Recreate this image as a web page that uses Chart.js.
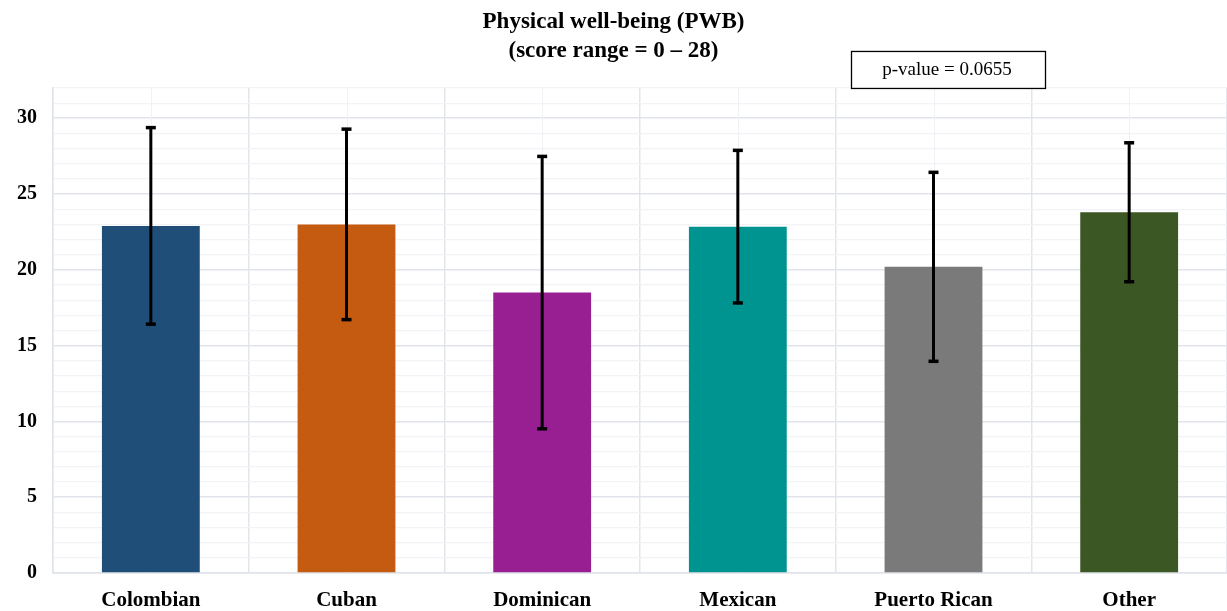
<!DOCTYPE html>
<html>
<head>
<meta charset="utf-8">
<script src="https://cdn.jsdelivr.net/npm/chart.js@4/dist/chart.umd.min.js"></script>
<style>
  html, body { margin: 0; padding: 0; background: #ffffff; }
  #wrap { width: 1227px; height: 611px; position: relative; }
</style>
</head>
<body>
<div id="wrap"><canvas id="pwb"></canvas></div>
<script>
// Physical well-being by heritage group: mean score and standard deviation
const groups = ['Colombian', 'Cuban', 'Dominican', 'Mexican', 'Puerto Rican', 'Other'];
const means = [22.9, 23.0, 18.5, 22.85, 20.2, 23.8];
const sds = [6.5, 6.3, 9.0, 5.05, 6.25, 4.6];
const barColors = ['#1f4e79', '#c55a11', '#971f91', '#009490', '#7a7a7a', '#3b5724'];
const yTickLabels = [0, 5, 10, 15, 20, 25, 30];
const pValueText = 'p-value = 0.0655';

const serif = "'Liberation Serif', 'Times New Roman', serif";

// light lines through the middle of each category, under the bars
const centerLines = {
  id: 'centerLines',
  beforeDatasetsDraw(chart) {
    const { ctx, chartArea, scales } = chart;
    ctx.save();
    ctx.strokeStyle = '#f1f2f5';
    ctx.lineWidth = 1;
    groups.forEach((g, i) => {
      const x = Math.round(scales.x.getPixelForValue(i)) + 0.5;
      ctx.beginPath();
      ctx.moveTo(x, chartArea.top);
      ctx.lineTo(x, chartArea.bottom);
      ctx.stroke();
    });
    ctx.restore();
  }
};

// mean ± SD whiskers with flat caps
const errorBars = {
  id: 'errorBars',
  afterDatasetsDraw(chart) {
    const { ctx, scales } = chart;
    ctx.save();
    ctx.strokeStyle = '#000000';
    ctx.fillStyle = '#000000';
    ctx.lineWidth = 3;
    means.forEach((m, i) => {
      const x = scales.x.getPixelForValue(i);
      const yTop = scales.y.getPixelForValue(m + sds[i]);
      const yBot = scales.y.getPixelForValue(m - sds[i]);
      ctx.beginPath();
      ctx.moveTo(x, yTop);
      ctx.lineTo(x, yBot);
      ctx.stroke();
      ctx.fillRect(x - 5, yTop - 1.5, 10, 3.5);
      ctx.fillRect(x - 5, yBot - 2, 10, 3.5);
    });
    ctx.restore();
  }
};

// boxed p-value note sitting on top of the plot area
const pValueBox = {
  id: 'pValueBox',
  afterDraw(chart) {
    const { ctx, chartArea } = chart;
    const w = 194, h = 37;
    const left = 851, bottom = chartArea.top;
    ctx.save();
    ctx.fillStyle = '#ffffff';
    ctx.fillRect(left, bottom - h, w, h);
    ctx.strokeStyle = '#000000';
    ctx.lineWidth = 1.3;
    ctx.strokeRect(left + 0.5, bottom - h + 0.5, w, h);
    ctx.fillStyle = '#000000';
    ctx.font = '19px ' + serif;
    ctx.textAlign = 'center';
    ctx.textBaseline = 'middle';
    ctx.fillText(pValueText, left + w / 2 - 1, bottom - h / 2 + 1);
    ctx.restore();
  }
};

new Chart(document.getElementById('pwb'), {
  type: 'bar',
  data: {
    labels: groups,
    datasets: [{
      data: means,
      backgroundColor: barColors,
      borderWidth: 0,
      barPercentage: 0.5,
      categoryPercentage: 1.0
    }]
  },
  options: {
    responsive: true,
    maintainAspectRatio: false,
    animation: false,
    layout: { padding: { left: 0, right: 0, top: 0, bottom: 0 } },
    plugins: {
      legend: { display: false },
      tooltip: { enabled: false },
      title: {
        display: true,
        text: ['Physical well-being (PWB)', '(score range = 0 \u2013 28)'],
        color: '#000000',
        font: { family: serif, size: 23, weight: 'bold', lineHeight: 1.26 },
        padding: { top: 8, bottom: 22 }
      }
    },
    scales: {
      x: {
        grid: {
          offset: true,
          drawTicks: false,
          color: '#e3e5ea',
          lineWidth: 1.5
        },
        border: { display: true, color: '#e0e3e9', width: 1.5 },
        ticks: {
          color: '#000000',
          padding: 15,
          maxRotation: 0,
          autoSkip: false,
          font: { family: serif, size: 21, weight: 'bold' }
        },
        afterFit(scale) { scale.height = 38; }
      },
      y: {
        min: 0,
        max: 32,
        grid: {
          drawTicks: false,
          color: (c) => (c.tick && c.tick.value % 5 === 0) ? '#e1e4ea' : '#f2f3f6',
          lineWidth: (c) => (c.tick && c.tick.value % 5 === 0) ? 1.6 : 1.2
        },
        border: { display: true, color: '#e0e3e9', width: 1.5 },
        ticks: {
          stepSize: 1,
          autoSkip: false,
          color: '#000000',
          padding: 16,
          font: { family: serif, size: 20, weight: 'bold' },
          callback: (v) => yTickLabels.includes(v) ? String(v) : ''
        },
        afterFit(scale) { scale.width = 53; }
      }
    }
  },
  plugins: [centerLines, errorBars, pValueBox]
});
</script>
</body>
</html>
